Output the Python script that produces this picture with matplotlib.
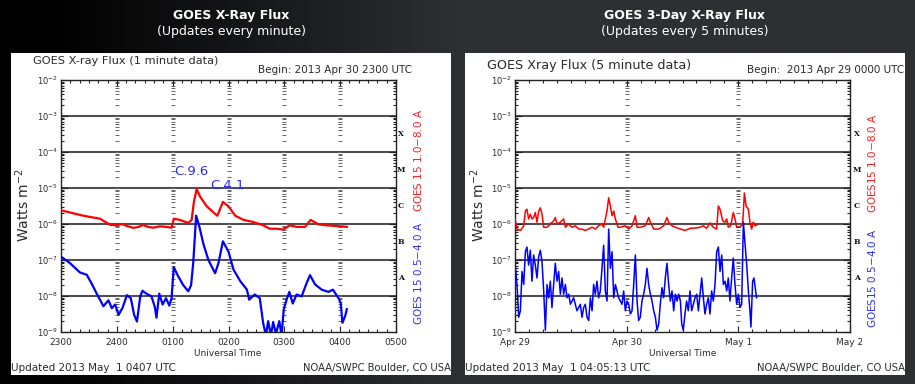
#!/usr/bin/env python3

"""
Recreate the two GOES X-ray flux panels (1-minute and 3-day views)
as they appear side by side on the SWPC web page.
"""

import numpy as np
import matplotlib

matplotlib.use("Agg")

import matplotlib.pyplot as plt
from matplotlib.colors import LinearSegmentedColormap
from matplotlib.patches import Rectangle
from matplotlib.ticker import FixedLocator, LogLocator, NullFormatter
from matplotlib.transforms import blended_transform_factory

# ---- left panel: 1-minute data, hours since 2300 UTC 30 Apr ----
left_long_t = [0.00, 0.40, 0.70, 0.88, 1.00, 1.09, 1.18, 1.30, 1.39, 1.47, 1.56, 1.65,
               1.77, 1.89, 1.98, 2.02, 2.13, 2.28, 2.34, 2.38, 2.43, 2.49, 2.61, 2.73,
               2.80, 2.90, 3.00, 3.12, 3.27, 3.44, 3.62, 3.74, 3.86, 3.98, 4.10, 4.22,
               4.37, 4.47, 4.61, 4.76, 4.91, 5.03, 5.12]
left_long_flux = [2.4e-6, 1.7e-6, 1.4e-6, 9.5e-7, 9.2e-7, 1.0e-6, 8.8e-7, 7.8e-7, 8.3e-7,
                  9.4e-7, 8.3e-7, 7.9e-7, 8.6e-7, 8.3e-7, 7.9e-7, 1.4e-6, 1.3e-6, 1.07e-6,
                  1.3e-6, 4.1e-6, 9.4e-6, 5.8e-6, 3.1e-6, 2.1e-6, 1.7e-6, 4.1e-6, 3.1e-6,
                  1.7e-6, 1.3e-6, 1.14e-6, 9.2e-7, 7.4e-7, 7.4e-7, 7.0e-7, 9.2e-7, 8.3e-7,
                  8.3e-7, 1.3e-6, 9.8e-7, 9.2e-7, 8.8e-7, 8.6e-7, 8.3e-7]

left_short_t = [0.00, 0.16, 0.34, 0.46, 0.55, 0.64, 0.76, 0.85, 0.91, 0.97, 1.03, 1.10,
                1.18, 1.25, 1.31, 1.36, 1.42, 1.46, 1.53, 1.62, 1.68, 1.71, 1.76, 1.82,
                1.88, 1.94, 1.98, 2.02, 2.10, 2.19, 2.28, 2.33, 2.37, 2.42, 2.48, 2.55,
                2.64, 2.76, 2.82, 2.90, 3.00, 3.09, 3.21, 3.33, 3.37, 3.47, 3.56, 3.62,
                3.67, 3.71, 3.76, 3.80, 3.85, 3.91, 3.95, 3.99, 4.04, 4.09, 4.15, 4.22,
                4.31, 4.40, 4.46, 4.55, 4.67, 4.79, 4.87, 4.97, 5.01, 5.04, 5.09, 5.12]
left_short_flux = [1.24e-7, 8.2e-8, 4.5e-8, 3.9e-8, 2.2e-8, 1.16e-8, 5.2e-9, 7.6e-9, 4.6e-9,
                   5.8e-9, 3.0e-9, 4.6e-9, 1.05e-8, 8.7e-9, 3.0e-9, 1.95e-9, 9.8e-9, 1.4e-8,
                   1.16e-8, 9.8e-9, 5.0e-9, 2.5e-9, 1.16e-8, 5.8e-9, 8.7e-9, 5.4e-9, 8.7e-9,
                   6.3e-8, 3.5e-8, 2.0e-8, 1.35e-8, 2.0e-8, 9.0e-8, 1.7e-6, 8.2e-7, 2.8e-7,
                   1.0e-7, 4.3e-8, 8.2e-8, 3.3e-7, 1.7e-7, 5.4e-8, 2.6e-8, 1.5e-8, 7.9e-9,
                   1.1e-8, 8.7e-9, 1.8e-9, 8.0e-10, 2.0e-9, 8.0e-10, 1.9e-9, 9.0e-10, 2.0e-9,
                   8.0e-10, 4.3e-9, 7.9e-9, 1.3e-8, 6.2e-9, 1.1e-8, 9.8e-9, 2.3e-8, 3.8e-8,
                   2.1e-8, 1.5e-8, 1.3e-8, 1.5e-8, 8.7e-9, 6.4e-9, 1.8e-9, 2.8e-9, 4.3e-9]

left_xticks = ["2300", "2400", "0100", "0200", "0300", "0400", "0500"]
flare_labels = ["C.9.6", "C.4.1"]

# ---- right panel: 5-minute data, days since 0000 UTC 29 Apr, log10(W m^-2) ----
right_long_t = [0.000, 0.018, 0.048, 0.078, 0.093, 0.107, 0.122, 0.137, 0.152, 0.167, 0.182,
                0.197, 0.212, 0.227, 0.242, 0.257, 0.287, 0.316, 0.346, 0.361, 0.376, 0.406,
                0.436, 0.451, 0.481, 0.510, 0.540, 0.570, 0.600, 0.630, 0.690, 0.719, 0.749,
                0.779, 0.794, 0.809, 0.824, 0.839, 0.854, 0.869, 0.884, 0.899, 0.922, 0.943,
                0.988, 1.018, 1.048, 1.078, 1.093, 1.122, 1.167, 1.197, 1.212, 1.242, 1.287,
                1.331, 1.361, 1.376, 1.406, 1.436, 1.481, 1.522, 1.567, 1.627, 1.657, 1.687,
                1.716, 1.746, 1.776, 1.806, 1.821, 1.836, 1.860, 1.881, 1.896, 1.910, 1.931,
                1.955, 1.970, 1.985, 2.015, 2.039, 2.054, 2.069, 2.090, 2.104, 2.119, 2.134,
                2.149, 2.164]
right_long_log = [-5.86, -6.14, -6.18, -6.05, -5.64, -5.59, -5.86, -5.73, -5.86, -5.82, -5.68,
                  -5.95, -5.64, -5.55, -5.73, -6.09, -6.09, -6.00, -5.91, -5.82, -6.00, -5.95,
                  -5.86, -6.09, -6.00, -6.09, -6.05, -6.14, -6.14, -6.18, -6.09, -6.14, -6.05,
                  -6.00, -6.09, -5.86, -5.64, -5.27, -5.50, -5.77, -5.64, -5.86, -6.09, -6.09,
                  -6.05, -6.14, -6.05, -5.77, -6.09, -6.09, -6.05, -5.82, -5.95, -6.14, -6.14,
                  -6.05, -5.82, -5.95, -6.05, -6.09, -6.14, -6.18, -6.12, -6.11, -6.09, -6.05,
                  -6.12, -5.97, -6.09, -6.14, -5.50, -5.59, -5.91, -5.95, -5.86, -6.09, -6.05,
                  -5.68, -5.86, -6.09, -6.09, -6.00, -5.14, -5.50, -5.59, -5.95, -6.14, -5.95,
                  -6.05, -6.03]

right_short_t = [0.000, 0.018, 0.033, 0.048, 0.063, 0.078, 0.093, 0.107, 0.122, 0.137, 0.152,
                 0.167, 0.182, 0.197, 0.212, 0.227, 0.242, 0.257, 0.272, 0.287, 0.301, 0.316,
                 0.331, 0.346, 0.361, 0.376, 0.391, 0.406, 0.421, 0.436, 0.451, 0.466, 0.481,
                 0.496, 0.525, 0.555, 0.585, 0.600, 0.615, 0.630, 0.645, 0.660, 0.675, 0.690,
                 0.704, 0.719, 0.734, 0.749, 0.764, 0.779, 0.794, 0.809, 0.824, 0.839, 0.854,
                 0.869, 0.884, 0.899, 0.913, 0.928, 0.958, 0.973, 0.988, 1.003, 1.018, 1.033,
                 1.048, 1.063, 1.078, 1.093, 1.107, 1.122, 1.137, 1.152, 1.167, 1.182, 1.197,
                 1.212, 1.227, 1.242, 1.257, 1.272, 1.287, 1.301, 1.316, 1.331, 1.346, 1.361,
                 1.376, 1.391, 1.406, 1.421, 1.436, 1.451, 1.466, 1.481, 1.493, 1.507, 1.522,
                 1.537, 1.552, 1.567, 1.582, 1.597, 1.612, 1.627, 1.642, 1.657, 1.672, 1.687,
                 1.701, 1.716, 1.731, 1.746, 1.761, 1.776, 1.791, 1.806, 1.821, 1.836, 1.851,
                 1.866, 1.881, 1.896, 1.910, 1.925, 1.940, 1.955, 1.970, 1.985, 2.000, 2.015,
                 2.030, 2.045, 2.060, 2.075, 2.090, 2.104, 2.113, 2.128, 2.140, 2.155, 2.164]
right_short_log = [-7.09, -7.68, -8.59, -8.41, -7.32, -7.68, -6.77, -6.64, -7.14, -6.73, -7.59,
                   -6.86, -7.14, -7.50, -6.91, -6.73, -7.05, -7.86, -8.95, -7.68, -8.05, -7.59,
                   -8.32, -7.68, -7.09, -7.59, -7.32, -7.95, -7.50, -7.95, -7.68, -8.05, -7.95,
                   -8.23, -8.05, -8.41, -8.23, -8.59, -8.32, -8.23, -8.59, -8.68, -8.05, -8.41,
                   -7.68, -7.95, -7.59, -8.05, -7.86, -7.23, -6.59, -7.86, -8.14, -6.14, -7.23,
                   -6.77, -8.05, -7.68, -7.86, -8.05, -8.23, -7.86, -8.41, -8.14, -8.23, -8.50,
                   -8.41, -7.68, -6.86, -8.14, -8.68, -8.59, -8.14, -7.95, -7.68, -7.23, -7.68,
                   -7.95, -8.14, -8.41, -8.59, -8.95, -8.77, -8.23, -7.77, -8.05, -7.50, -7.09,
                   -7.68, -8.14, -7.86, -8.41, -7.95, -8.14, -7.95, -8.14, -8.77, -8.95, -8.50,
                   -8.14, -8.41, -7.86, -8.41, -8.23, -8.05, -7.95, -8.41, -7.95, -7.50, -8.05,
                   -8.50, -8.23, -8.05, -8.50, -7.86, -8.14, -7.68, -6.77, -6.64, -7.32, -6.86,
                   -7.68, -7.59, -7.86, -7.50, -8.14, -7.50, -6.95, -7.68, -8.23, -7.95, -8.32,
                   -8.23, -5.95, -6.55, -7.14, -7.86, -8.41, -8.86, -7.59, -7.50, -7.86, -8.05]

right_xticks = ["Apr 29", "Apr 30", "May 1", "May 2"]

flare_classes = ["X", "M", "C", "B", "A"]
class_exponents = [-3.5, -4.5, -5.5, -6.5, -7.5]

W, H = 915, 384
TEXT = "#2b2b2b"


def fx(px: float) -> float:
    return px / W


def fy(py: float) -> float:
    return 1.0 - py / H


fig = plt.figure(figsize=(W / 100, H / 100), dpi=100)

# dark page background, black on the left fading to slate grey on the right
bg = fig.add_axes([0, 0, 1, 1], zorder=-10)
ramp = np.clip((np.linspace(0, 1, 400) - 0.05) / 0.45, 0, 1)
bg.imshow(ramp[None, :], aspect="auto", extent=[0, 1, 0, 1],
          cmap=LinearSegmentedColormap.from_list("page", ["#000000", "#2e2f33"]))
bg.axis("off")

for x0, x1 in [(11, 451), (465, 905)]:
    fig.add_artist(Rectangle((fx(x0), fy(375)), (x1 - x0) / W, (375 - 53) / H,
                             transform=fig.transFigure, facecolor="white",
                             edgecolor="none", zorder=-5))


def style_axes(ax, xmax, major_labels, minor_step, letter_x):
    ax.set_yscale("log")
    ax.set_ylim(1e-9, 1e-2)
    ax.set_xlim(0, xmax)
    majors = list(range(len(major_labels)))
    ax.xaxis.set_major_locator(FixedLocator(majors))
    ax.set_xticklabels(major_labels)
    ax.xaxis.set_minor_locator(FixedLocator(np.arange(0, xmax, minor_step)))
    ax.yaxis.set_major_locator(LogLocator(base=10, numticks=12))
    ax.yaxis.set_minor_locator(LogLocator(base=10, subs=np.arange(2, 10), numticks=12))
    ax.yaxis.set_minor_formatter(NullFormatter())
    ax.tick_params(which="both", direction="in", top=True, right=True,
                   colors="#222222", labelcolor=TEXT, labelsize=6.5, width=0.8)
    ax.tick_params(which="major", length=4, pad=4)
    ax.tick_params(which="minor", length=2.5)
    ax.tick_params(axis="y", which="major", length=5, labelsize=6, pad=2)
    for spine in ax.spines.values():
        spine.set_linewidth(1.0)
        spine.set_color("#222222")
    for e in range(-8, -2):
        ax.axhline(10.0 ** e, color="#505050", linewidth=1.5, zorder=1)
    # minor log ticks repeated along the interior major x ticks
    minor_y = [m * 10.0 ** e for e in range(-9, -2) for m in range(1, 10)]
    for xm in majors[1:-1]:
        ax.plot([xm] * len(minor_y), minor_y, linestyle="none", marker="_",
                markersize=3.2, markeredgewidth=0.7, color="#666666", zorder=1)
    # flare class letters just outside the right spine
    trans = blended_transform_factory(fig.transFigure, ax.transData)
    for letter, expo in zip(flare_classes, class_exponents):
        ax.text(fx(letter_x), 10.0 ** expo, letter, transform=trans, fontsize=5.5,
                fontweight="bold", family="serif", ha="center", va="center",
                color="#111111", clip_on=False)


ax_l = fig.add_axes([fx(61), fy(332), 335 / W, 252 / H])
style_axes(ax_l, 6, left_xticks, 1 / 6, 401)
ax_l.plot(left_long_t, left_long_flux, color="#ff0000", linewidth=1.6, zorder=3)
ax_l.plot(left_short_t, left_short_flux, color="#0000ff", linewidth=1.6, zorder=3)

ax_r = fig.add_axes([fx(515), fy(332), 335 / W, 252 / H])
style_axes(ax_r, 3, right_xticks, 1 / 8, 857)
ax_r.plot(right_long_t, 10.0 ** np.array(right_long_log), color="#ff0000",
          linewidth=1.1, zorder=3)
ax_r.plot(right_short_t, 10.0 ** np.array(right_short_log), color="#0000ff",
          linewidth=1.1, zorder=3)

# flare annotations on the 1-minute panel
ax_l.annotate(flare_labels[0], (left_long_t[20], left_long_flux[20]), xytext=(-4, 8),
              textcoords="offset points", ha="center", va="bottom",
              color="#2a2aff", fontsize=9.5)
ax_l.annotate(flare_labels[1], (left_long_t[25], left_long_flux[25]), xytext=(3, 7),
              textcoords="offset points", ha="center", va="bottom",
              color="#2a2aff", fontsize=9.5)


def ftext(x, y, s, **kw):
    kw.setdefault("color", TEXT)
    fig.text(fx(x), fy(y), s, **kw)


# page headers
for cx, title, sub in [(231, "GOES X-Ray Flux", "(Updates every minute)"),
                       (685, "GOES 3-Day X-Ray Flux", "(Updates every 5 minutes)")]:
    ftext(cx, 15, title, color="white", fontsize=9, fontweight="bold", ha="center", va="center")
    ftext(cx, 31, sub, color="white", fontsize=9, ha="center", va="center")

# panel texts
ftext(33, 61, "GOES X-ray Flux (1 minute data)", fontsize=8.2, va="center")
ftext(412, 70, "Begin: 2013 Apr 30 2300 UTC", fontsize=7.5, ha="right", va="center")
ftext(487, 66, "GOES Xray Flux (5 minute data)", fontsize=9.2, va="center")
ftext(747, 70, "Begin:  2013 Apr 29 0000 UTC", fontsize=7.5, va="center")

for cx in [228, 683]:
    ftext(cx, 353, "Universal Time", fontsize=6.5, ha="center", va="center")
    ftext(cx - 205, 205, "Watts m$^{-2}$", fontsize=10, rotation=90, ha="center", va="center")

ftext(11, 368, "Updated 2013 May  1 0407 UTC", fontsize=7.5, va="center")
ftext(451, 368, "NOAA/SWPC Boulder, CO USA", fontsize=7.2, ha="right", va="center")
ftext(465, 368, "Updated 2013 May  1 04:05:13 UTC", fontsize=7.5, va="center")
ftext(905, 368, "NOAA/SWPC Boulder, CO USA", fontsize=7.2, ha="right", va="center")

ftext(418, 160, "GOES 15 1.0$-$8.0 A", fontsize=7.5, color="#ff2020", rotation=90,
      ha="center", va="center")
ftext(418, 273, "GOES 15 0.5$-$4.0 A", fontsize=7.5, color="#3030ff", rotation=90,
      ha="center", va="center")
ftext(872, 163, "GOES15 1.0$-$8.0 A", fontsize=7.5, color="#ff2020", rotation=90,
      ha="center", va="center")
ftext(872, 278, "GOES15 0.5$-$4.0 A", fontsize=7.5, color="#3030ff", rotation=90,
      ha="center", va="center")

fig.savefig("out.png", dpi=100)
